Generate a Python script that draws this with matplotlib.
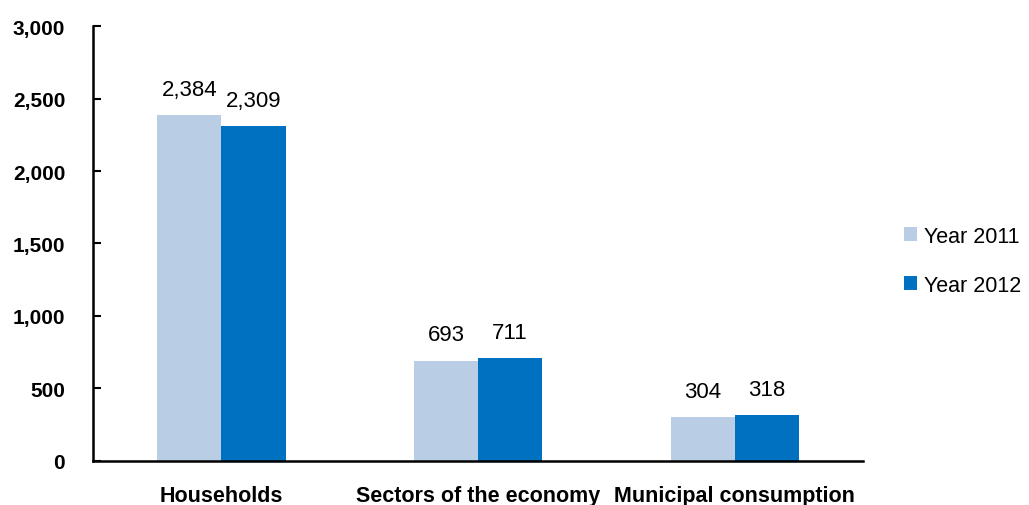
import numpy as np
import matplotlib
matplotlib.use("Agg")
import matplotlib.pyplot as plt
from matplotlib.ticker import FuncFormatter

categories = ["Households", "Sectors of the economy", "Municipal consumption"]
year_2011 = [2384, 693, 304]
year_2012 = [2309, 711, 318]
series_names = ["Year 2011", "Year 2012"]

plt.rcParams['font.family'] = ['Liberation Sans', 'DejaVu Sans']

fig = plt.figure(figsize=(10.29, 5.06), dpi=100)
ax = fig.add_axes([0.0904, 0.087, 0.7483, 0.8596])

x = np.arange(len(categories))
w = 0.25
b1 = ax.bar(x - w / 2, year_2011, w, color="#B9CDE5", label=series_names[0])
b2 = ax.bar(x + w / 2, year_2012, w, color="#0070C0", label=series_names[1])

for bars in (b1, b2):
    for rect in bars:
        h = rect.get_height()
        ax.annotate(f"{h:,.0f}", (rect.get_x() + rect.get_width() / 2, h),
                    xytext=(0, 11), textcoords="offset points",
                    ha="center", va="bottom", fontsize=16)

ax.set_xlim(-0.5, 2.5)
ax.set_ylim(0, 3000)
ax.set_yticks(range(0, 3001, 500))
ax.yaxis.set_major_formatter(FuncFormatter(lambda v, p: f"{v:,.0f}"))
ax.set_xticks(x)
ax.set_xticklabels(categories, fontsize=15.5, fontweight="bold")
ax.tick_params(axis="x", length=0, pad=17)
ax.tick_params(axis="y", direction="in", length=6, width=1.5, pad=20,
               labelsize=15)
for t in ax.get_yticklabels():
    t.set_fontweight("bold")

for s in ("top", "right"):
    ax.spines[s].set_visible(False)
for s in ("left", "bottom"):
    ax.spines[s].set_linewidth(1.8)

fig.legend(handles=[b1, b2], loc="center left", bbox_to_anchor=(0.86, 0.483),
           frameon=False, fontsize=15.5, handlelength=0.6, handleheight=0.6,
           handletextpad=0.33, labelspacing=1.3)

fig.savefig("out.png", dpi=100)
